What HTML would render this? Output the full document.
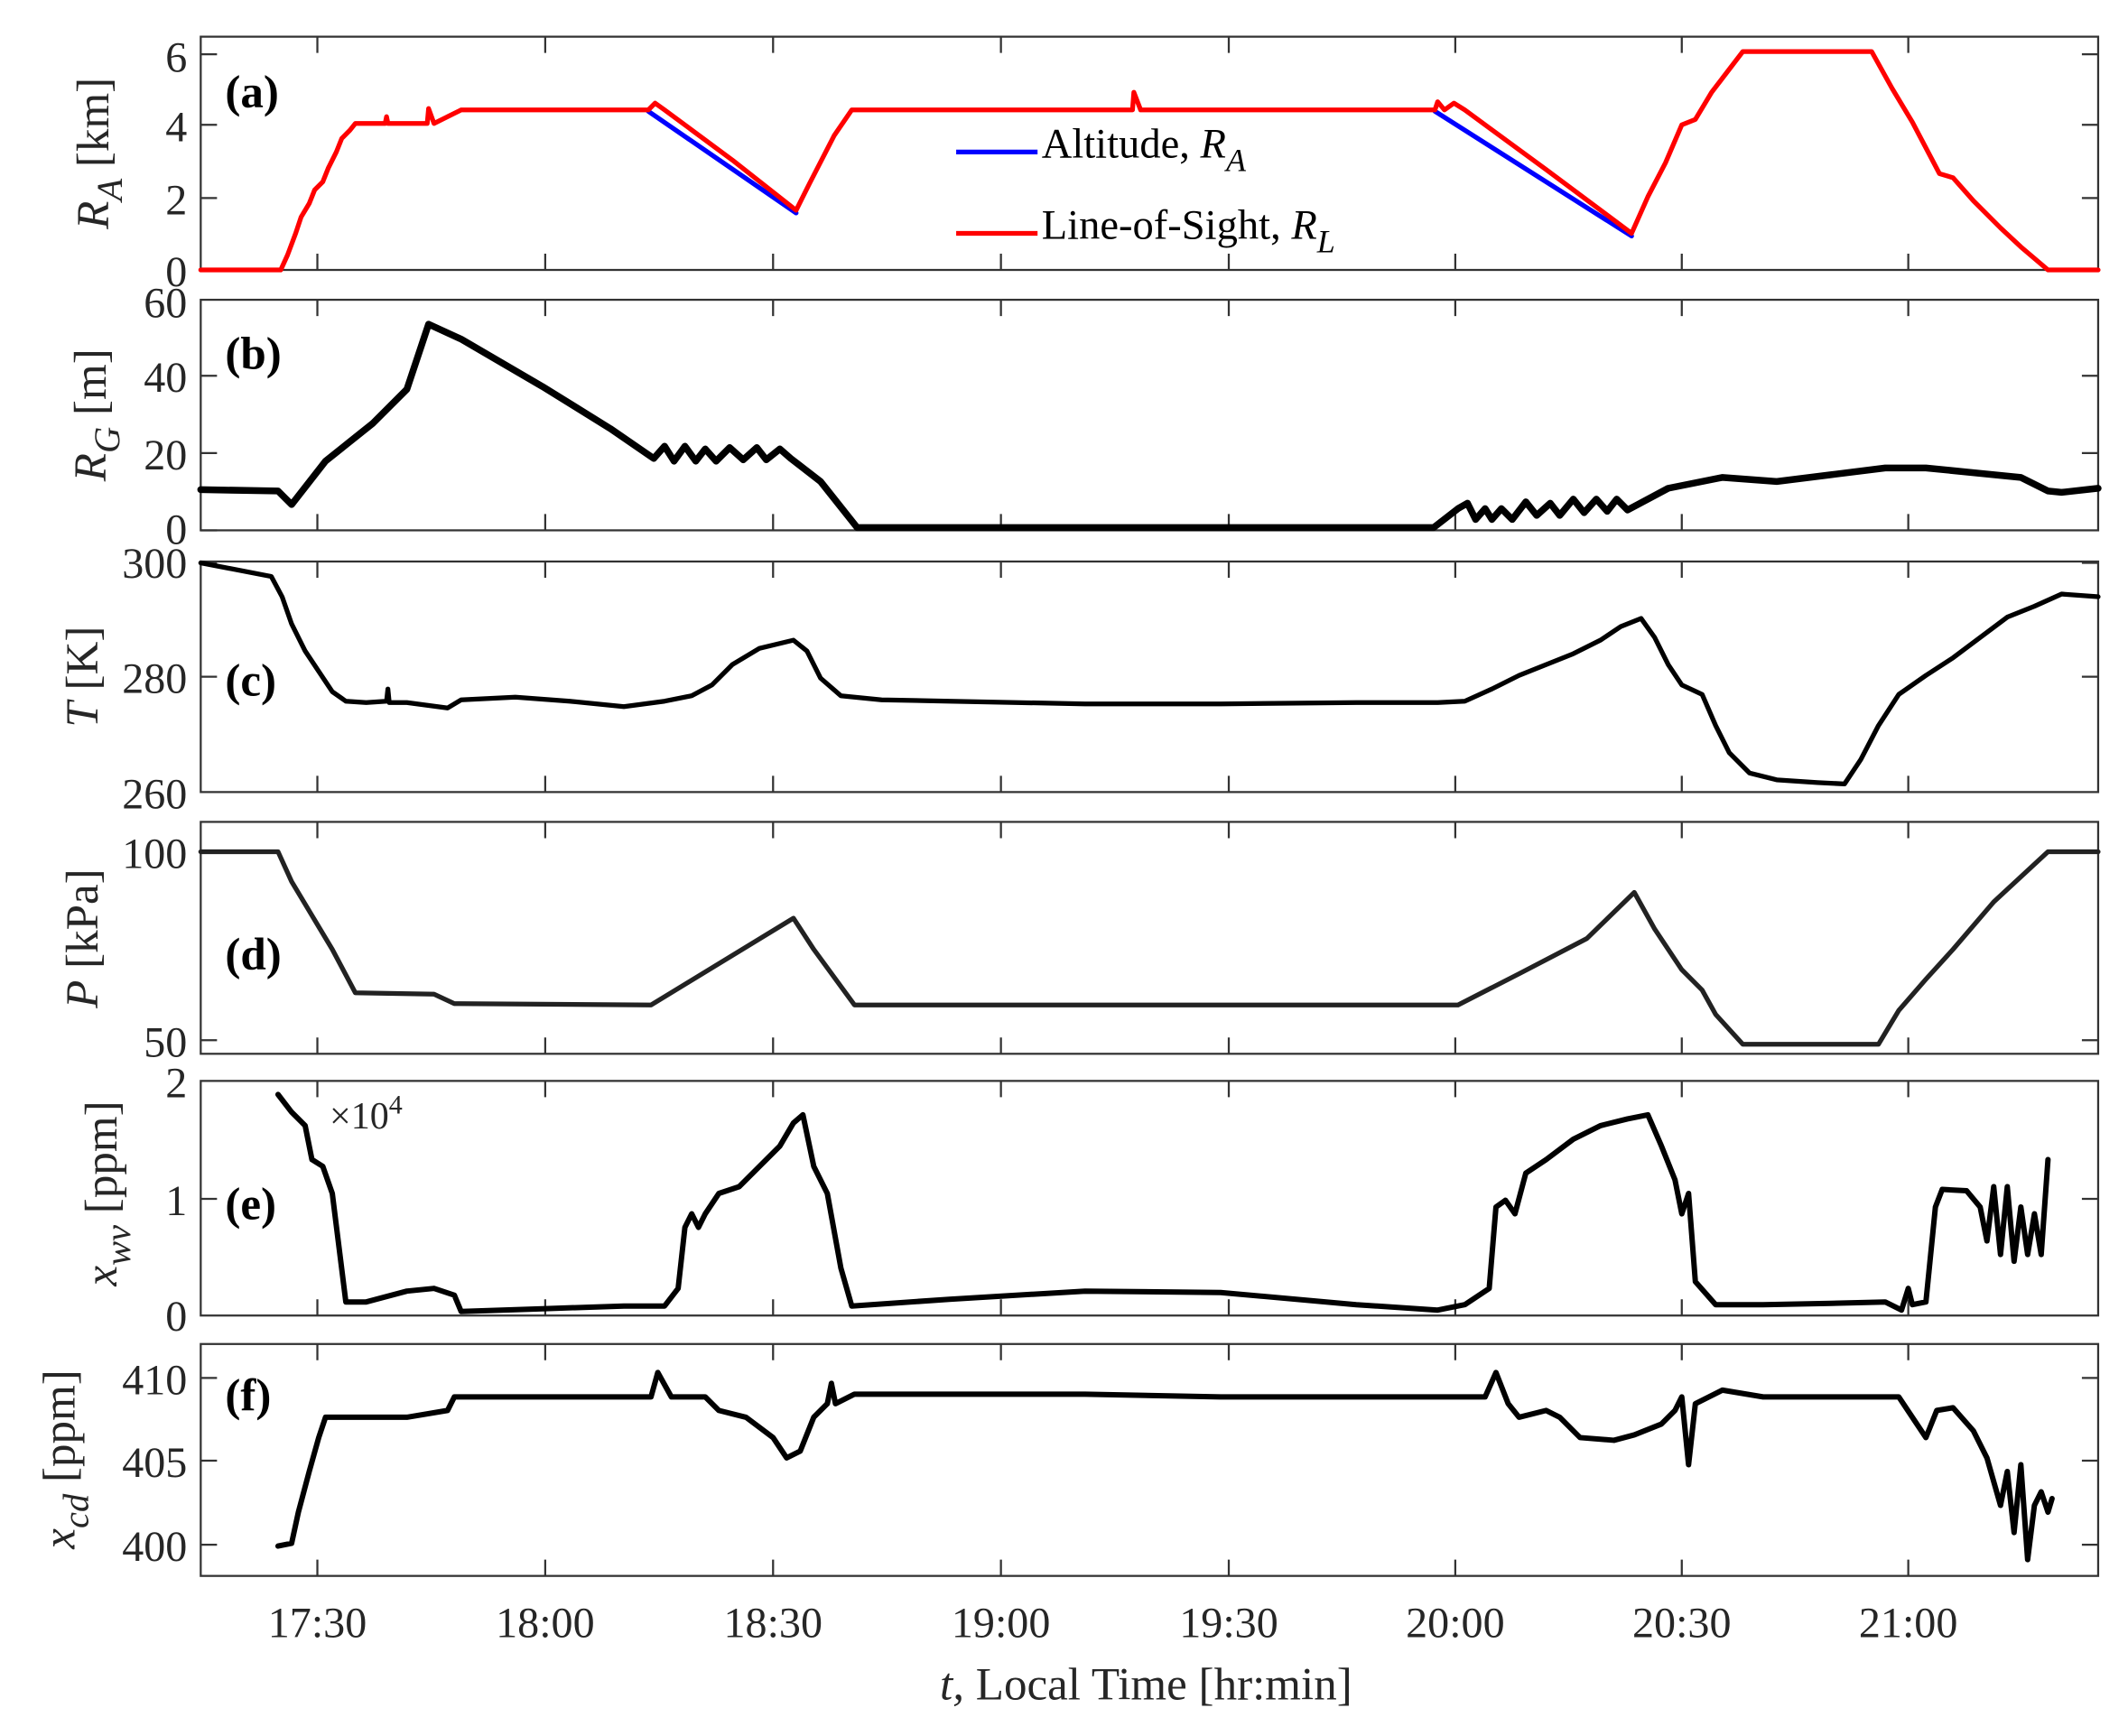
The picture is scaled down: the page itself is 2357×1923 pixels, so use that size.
<!DOCTYPE html>
<html><head><meta charset="utf-8"><style>
html,body{margin:0;padding:0;background:#fff}
svg{display:block}
text{font-family:"Liberation Serif",serif;fill:#262626}
.tk{font-size:32px}
.pl{font-size:34px;font-weight:bold;fill:#000}
.yl{font-size:34px}
</style></head><body>
<svg width="2357" height="1923" viewBox="0 0 1569 1280" xmlns="http://www.w3.org/2000/svg">
<g fill="none" stroke="#333" stroke-width="1.5">
<rect x="148" y="27" width="1399" height="172"/>
<rect x="148" y="221" width="1399" height="170"/>
<rect x="148" y="414" width="1399" height="170"/>
<rect x="148" y="606" width="1399" height="171"/>
<rect x="148" y="797" width="1399" height="173"/>
<rect x="148" y="991" width="1399" height="171"/>
</g>
<g stroke="#333" stroke-width="1.5">
<path d="M234 27v12M402 27v12M570 27v12M738 27v12M906 27v12M1073 27v12M1240 27v12M1407 27v12M234 199v-12M402 199v-12M570 199v-12M738 199v-12M906 199v-12M1073 199v-12M1240 199v-12M1407 199v-12"/>
<path d="M234 221v12M402 221v12M570 221v12M738 221v12M906 221v12M1073 221v12M1240 221v12M1407 221v12M234 391v-12M402 391v-12M570 391v-12M738 391v-12M906 391v-12M1073 391v-12M1240 391v-12M1407 391v-12"/>
<path d="M234 414v12M402 414v12M570 414v12M738 414v12M906 414v12M1073 414v12M1240 414v12M1407 414v12M234 584v-12M402 584v-12M570 584v-12M738 584v-12M906 584v-12M1073 584v-12M1240 584v-12M1407 584v-12"/>
<path d="M234 606v12M402 606v12M570 606v12M738 606v12M906 606v12M1073 606v12M1240 606v12M1407 606v12M234 777v-12M402 777v-12M570 777v-12M738 777v-12M906 777v-12M1073 777v-12M1240 777v-12M1407 777v-12"/>
<path d="M234 797v12M402 797v12M570 797v12M738 797v12M906 797v12M1073 797v12M1240 797v12M1407 797v12M234 970v-12M402 970v-12M570 970v-12M738 970v-12M906 970v-12M1073 970v-12M1240 970v-12M1407 970v-12"/>
<path d="M234 991v12M402 991v12M570 991v12M738 991v12M906 991v12M1073 991v12M1240 991v12M1407 991v12M234 1162v-12M402 1162v-12M570 1162v-12M738 1162v-12M906 1162v-12M1073 1162v-12M1240 1162v-12M1407 1162v-12"/>
<path d="M148 40h12M148 92h12M148 146h12M1547 40h-12M1547 92h-12M1547 146h-12"/>
<path d="M148 277h12M148 334h12M148 391h12M1547 277h-12M1547 334h-12"/>
<path d="M148 499h12M1547 499h-12M148 415h12M1547 415h-12"/>
<path d="M148 628h12M148 767h12M1547 628h-12M1547 767h-12"/>
<path d="M148 884h12M1547 884h-12"/>
<path d="M148 1016h12M148 1077h12M148 1139h12M1547 1016h-12M1547 1077h-12M1547 1139h-12"/>
</g>
<g text-anchor="end">
<text x="138" y="53" class="tk">6</text><text x="138" y="104" class="tk">4</text><text x="138" y="158" class="tk">2</text><text x="138" y="211" class="tk">0</text>
<text x="138" y="234" class="tk">60</text><text x="138" y="289" class="tk">40</text><text x="138" y="346" class="tk">20</text><text x="138" y="401" class="tk">0</text>
<text x="138" y="426" class="tk">300</text><text x="138" y="511" class="tk">280</text><text x="138" y="596" class="tk">260</text>
<text x="138" y="640" class="tk">100</text><text x="138" y="779" class="tk">50</text>
<text x="138" y="809" class="tk">2</text><text x="138" y="896" class="tk">1</text><text x="138" y="981" class="tk">0</text>
<text x="138" y="1028" class="tk">410</text><text x="138" y="1089" class="tk">405</text><text x="138" y="1151" class="tk">400</text>
</g>
<g text-anchor="middle">
<text x="234" y="1207" class="tk">17:30</text><text x="402" y="1207" class="tk">18:00</text><text x="570" y="1207" class="tk">18:30</text><text x="738" y="1207" class="tk">19:00</text><text x="906" y="1207" class="tk">19:30</text><text x="1073" y="1207" class="tk">20:00</text><text x="1240" y="1207" class="tk">20:30</text><text x="1407" y="1207" class="tk">21:00</text>
</g>
<text x="845" y="1253" text-anchor="middle" class="yl"><tspan font-style="italic">t,</tspan>  Local Time [hr:min]</text>
<text transform="translate(80,113) rotate(-90)" text-anchor="middle" class="yl"><tspan font-style="italic">R</tspan><tspan font-style="italic" font-size="27" dy="10">A</tspan><tspan dy="-10"> [km]</tspan></text>
<text transform="translate(78,306) rotate(-90)" text-anchor="middle" class="yl"><tspan font-style="italic">R</tspan><tspan font-style="italic" font-size="27" dy="10">G</tspan><tspan dy="-10">  [m]</tspan></text>
<text transform="translate(72,499) rotate(-90)" text-anchor="middle" class="yl"><tspan font-style="italic">T</tspan> [K]</text>
<text transform="translate(72,692) rotate(-90)" text-anchor="middle" class="yl"><tspan font-style="italic">P</tspan>  [kPa]</text>
<text transform="translate(86,880) rotate(-90)" text-anchor="middle" class="yl"><tspan font-style="italic">x</tspan><tspan font-style="italic" font-size="27" dy="10">wv</tspan><tspan dy="-10"> [ppm]</tspan></text>
<text transform="translate(55,1076) rotate(-90)" text-anchor="middle" class="yl"><tspan font-style="italic">x</tspan><tspan font-style="italic" font-size="27" dy="10">cd</tspan><tspan dy="-10"> [ppm]</tspan></text>
<text x="166" y="79" class="pl">(a)</text>
<text x="166" y="272" class="pl">(b)</text>
<text x="166" y="513" class="pl">(c)</text>
<text x="166" y="715" class="pl">(d)</text>
<text x="166" y="899" class="pl">(e)</text>
<text x="166" y="1040" class="pl">(f)</text>
<text x="243" y="832" style="font-size:28px">×10<tspan font-size="20" dy="-11">4</tspan></text>
<line x1="705" y1="112" x2="765" y2="112" stroke="#0000ff" stroke-width="3.5"/>
<text x="768" y="116" class="yl" style="font-size:31px;fill:#000">Altitude, <tspan font-style="italic">R</tspan><tspan font-style="italic" font-size="24" dy="10">A</tspan></text>
<line x1="705" y1="172" x2="765" y2="172" stroke="#ff0000" stroke-width="3.5"/>
<text x="768" y="176" class="yl" style="font-size:31px;fill:#000">Line-of-Sight, <tspan font-style="italic">R</tspan><tspan font-style="italic" font-size="24" dy="10">L</tspan></text>
<g fill="none" stroke-linejoin="round" stroke-linecap="round">
<polyline stroke="#0000ff" stroke-width="3.5" points="478,82 587,157"/>
<polyline stroke="#0000ff" stroke-width="3.5" points="1058,82 1203,174"/>
<polyline stroke="#ff0000" stroke-width="3.5" points="148,199 207,199 212,188 218,172 222,160 228,150 232,140 238,134 242,124 248,112 252,102 258,96 262,91 284,91 285,86 286,91 315,91 316,80 320,91 330,86 340,81 478,81 483,76 490,81 540,118 587,155 597,135 615,100 628,81 835,81 836,68 841,81 1058,81 1060,75 1065,81 1072,76 1080,81 1140,125 1203,172 1215,145 1228,120 1240,92 1250,88 1262,68 1285,38 1380,38 1395,65 1410,90 1430,128 1440,131 1455,148 1475,168 1490,182 1510,199 1547,199"/>
<polyline stroke="#000" stroke-width="5" points="148,361 205,362 215,372 240,340 275,312 300,287 316,239 340,250 400,285 450,316 482,338 490,329 497,340 505,329 513,340 520,331 528,340 538,330 548,339 558,330 565,339 575,331 583,338 605,355 632,389 1057,389 1075,375 1082,371 1088,383 1095,375 1100,383 1107,375 1115,383 1125,370 1133,380 1143,371 1150,380 1160,368 1168,378 1177,368 1185,377 1192,368 1200,376 1230,360 1270,352 1310,355 1350,350 1390,345 1420,345 1450,348 1490,352 1510,362 1520,363 1547,360"/>
<polyline stroke="#000" stroke-width="3.5" points="148,415 200,425 208,440 215,460 225,480 235,495 245,510 255,517 270,518 285,517 286,508 287,518 300,518 330,522 340,516 380,514 420,517 460,521 490,517 510,513 525,505 540,490 560,478 585,472 595,480 605,500 620,513 650,516 700,517 800,519 900,519 1000,518 1060,518 1080,517 1100,508 1120,498 1140,490 1160,482 1180,472 1195,462 1210,456 1220,470 1230,490 1240,505 1255,512 1265,535 1275,555 1290,570 1310,575 1340,577 1360,578 1372,560 1385,535 1400,512 1420,498 1440,485 1460,470 1480,455 1500,447 1520,438 1547,440"/>
<polyline stroke="#222" stroke-width="3.5" points="148,628 205,628 215,650 230,675 245,700 262,732 320,733 335,740 480,741 585,677 600,700 630,741 1075,741 1120,718 1170,692 1205,658 1220,685 1240,715 1255,730 1265,748 1285,770 1385,770 1400,745 1420,722 1440,700 1470,665 1510,628 1547,628"/>
<polyline stroke="#000" stroke-width="4" points="205,807 215,820 225,830 230,855 238,860 245,880 250,920 255,960 270,960 300,952 320,950 335,955 340,967 400,965 460,963 490,963 500,950 505,905 510,895 515,905 520,895 530,880 545,875 560,860 575,845 585,828 592,822 600,860 610,880 620,935 628,963 700,958 800,952 900,953 1000,962 1060,966 1080,962 1098,950 1103,890 1110,885 1117,895 1125,865 1140,855 1160,840 1180,830 1200,825 1215,822 1225,845 1235,870 1240,895 1245,880 1250,945 1265,962 1300,962 1350,961 1390,960 1402,966 1407,950 1410,962 1420,960 1427,890 1432,877 1450,878 1460,890 1465,915 1470,875 1475,925 1480,875 1485,930 1490,890 1495,925 1500,895 1505,925 1510,855"/>
<polyline stroke="#000" stroke-width="4" points="205,1140 215,1138 220,1115 228,1085 235,1060 240,1045 250,1045 300,1045 330,1040 335,1030 480,1030 485,1012 495,1030 520,1030 530,1040 550,1045 570,1060 580,1075 590,1070 600,1045 610,1035 613,1020 616,1035 630,1028 700,1028 800,1028 900,1030 1000,1030 1095,1030 1103,1012 1112,1035 1120,1045 1140,1040 1150,1045 1165,1060 1190,1062 1205,1058 1225,1050 1235,1040 1240,1030 1245,1080 1250,1035 1270,1025 1300,1030 1400,1030 1410,1045 1420,1060 1428,1040 1440,1038 1455,1055 1465,1075 1475,1110 1480,1085 1485,1130 1490,1080 1495,1150 1500,1110 1505,1100 1510,1115 1513,1105"/>
</g>
</svg>
</body></html>
